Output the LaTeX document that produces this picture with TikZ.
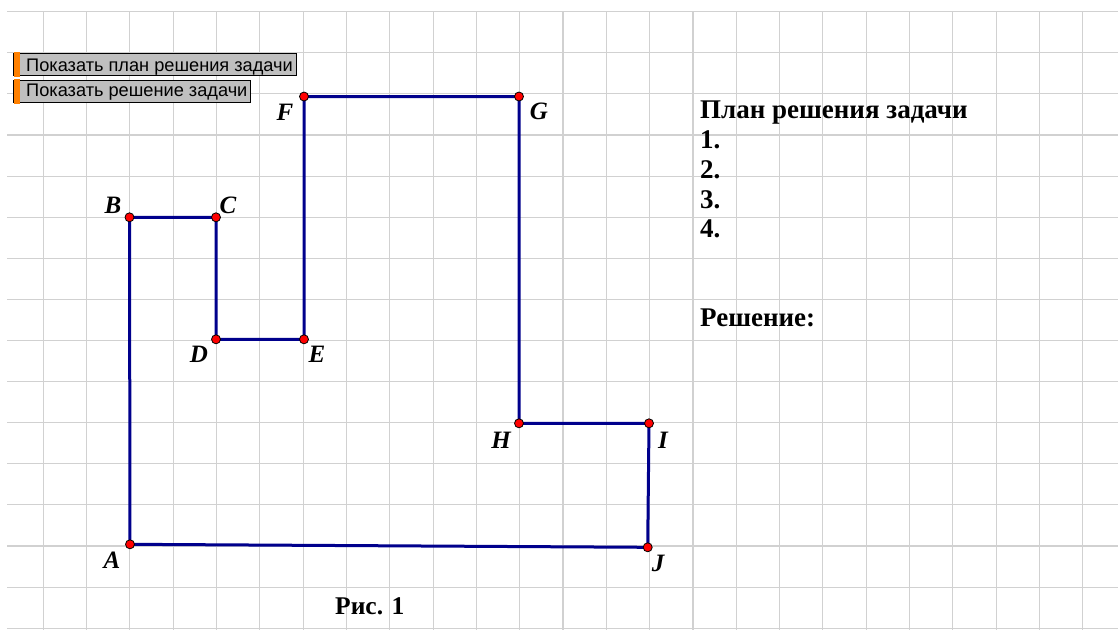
\documentclass[tikz,border=0pt]{standalone}
\usepackage{fontspec}
\setmainfont{Liberation Serif}
\setsansfont{Liberation Sans}
\begin{document}
\begin{tikzpicture}[x=1pt,y=-1pt,
  gridline/.style={draw=black!18, line width=1.1pt},
  figline/.style={draw={rgb,255:red,0;green,0;blue,140}, line width=3pt, line join=miter},
  ptdot/.style={circle, fill=red, draw=black, line width=0.8pt, inner sep=0pt, minimum size=9pt},
  ptlabel/.style={font=\fontsize{25}{27}\selectfont\bfseries\itshape, inner sep=0pt},
  plantext/.style={font=\fontsize{27}{30}\selectfont\bfseries, inner sep=0pt, anchor=base west},
  btnbox/.style={draw=black, line width=1.3pt, fill=black!25, inner sep=0pt, anchor=north west},
  btntext/.style={font=\sffamily\fontsize{18.2}{21}\selectfont, inner sep=0pt, anchor=base west}]
\fill[white] (0,0) rectangle (1118,630);
\useasboundingbox (0,0) rectangle (1118,630);
% grid
\foreach \k in {1,...,25} { \draw[gridline] ({43.31*\k},11.7) -- ({43.31*\k},630); }
\foreach \j in {0,...,15} { \draw[gridline] (7,{11.7+41.1*\j}) -- (1118,{11.7+41.1*\j}); }
% points
\coordinate (A) at (130,544.3);
\coordinate (B) at (129.5,217.3);
\coordinate (C) at (216,217.3);
\coordinate (D) at (216,339.3);
\coordinate (E) at (304,339.3);
\coordinate (F) at (304,96.5);
\coordinate (G) at (519,96.5);
\coordinate (H) at (519,423.3);
\coordinate (I) at (649,423.3);
\coordinate (J) at (647.7,547.3);
\draw[figline] (A) -- (B) -- (C) -- (D) -- (E) -- (F) -- (G) -- (H) -- (I) -- (J) -- cycle;
\foreach \p in {A,B,C,D,E,F,G,H,I,J} { \node[ptdot] (dot\p) at (\p) {}; }
% labels
\node[ptlabel] (lA) at (112,560) {A};
\node[ptlabel] (lB) at (113,205) {B};
\node[ptlabel] (lC) at (228,205) {C};
\node[ptlabel] (lD) at (199,354) {D};
\node[ptlabel] (lE) at (317,354) {E};
\node[ptlabel] (lF) at (285,112) {F};
\node[ptlabel] (lG) at (539,111) {G};
\node[ptlabel] (lH) at (501,440) {H};
\node[ptlabel] (lI) at (663,440) {I};
\node[ptlabel] (lJ) at (658,563) {J};
\node[plantext, font=\fontsize{25.5}{28}\selectfont\bfseries] (ris) at (335,614) {Рис. 1};
% plan
\node[plantext] (plan) at (700,118) {План решения задачи};
\node[plantext] (n1) at (700,148) {1.};
\node[plantext] (n2) at (700,178) {2.};
\node[plantext] (n3) at (700,208) {3.};
\node[plantext] (n4) at (700,237) {4.};
\node[plantext] (sol) at (700,326) {Решение:};
% buttons
\node[btnbox, minimum width=283pt, minimum height=22.3pt] (b1) at (13,52.7) {};
\fill[orange] ([shift={(0.65pt,0.65pt)}]b1.north west) rectangle ([shift={(7pt,-0.65pt)}]b1.south west);
\node[btntext] (t1) at (26,71.5) {Показать план решения задачи};
\node[btnbox, minimum width=237pt, minimum height=21.7pt] (b2) at (13,80) {};
\fill[orange] ([shift={(0.65pt,0.65pt)}]b2.north west) rectangle ([shift={(7pt,-0.65pt)}]b2.south west);
\node[btntext] (t2) at (26,96.5) {Показать решение задачи};
\end{tikzpicture}
\end{document}
